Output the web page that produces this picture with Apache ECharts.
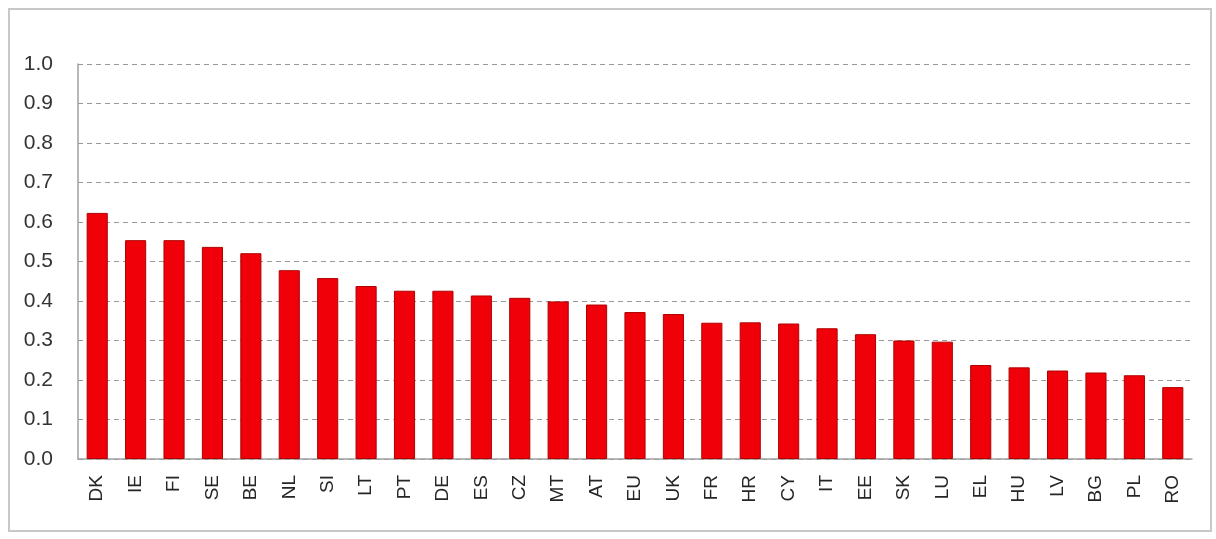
<!DOCTYPE html>
<html>
<head>
<meta charset="utf-8">
<script src="https://cdn.jsdelivr.net/npm/echarts@6/dist/echarts.min.js"></script>
<style>
  html, body { margin: 0; padding: 0; background: #fff; }
  #chart { width: 1216px; height: 539px; }
  .frame {
    position: absolute; left: 8px; top: 8px; width: 1200px; height: 520px;
    border: 2px solid #c8c8c8; pointer-events: none;
  }
</style>
</head>
<body>
<div id="chart"></div>
<div class="frame"></div>
<script>
// countries, ranked
const countries = ['DK', 'IE', 'FI', 'SE', 'BE', 'NL', 'SI', 'LT', 'PT', 'DE', 'ES', 'CZ', 'MT', 'AT', 'EU',
  'UK', 'FR', 'HR', 'CY', 'IT', 'EE', 'SK', 'LU', 'EL', 'HU', 'LV', 'BG', 'PL', 'RO']
const values = [0.623, 0.554, 0.554, 0.537, 0.521, 0.478, 0.458, 0.438, 0.426, 0.426, 0.414, 0.408, 0.399, 0.391, 0.372,
  0.367, 0.345, 0.346, 0.343, 0.331, 0.316, 0.300, 0.297, 0.238, 0.232, 0.224, 0.219, 0.212, 0.182]

const mychart = echarts.init(document.getElementById('chart'))
mychart.setOption({
  animation: false,
  grid: { left: 78, right: 24, top: 64, bottom: 80 },
  xAxis: {
    type: 'category',
    data: countries,
    axisLine: { lineStyle: { color: '#a0a0a0', width: 1.5 } },
    axisTick: { show: false },
    axisLabel: {
      rotate: 90,
      margin: 16,
      color: '#262626',
      fontSize: 19,
      fontFamily: 'Liberation Sans'
    }
  },
  yAxis: {
    type: 'value',
    min: 0,
    max: 1,
    interval: 0.1,
    axisLine: { show: true, lineStyle: { color: '#a0a0a0', width: 1.5 } },
    axisTick: { show: false },
    axisLabel: {
      formatter: v => v.toFixed(1),
      margin: 25,
      color: '#333',
      fontSize: 21,
      fontFamily: 'Liberation Sans'
    },
    splitLine: { lineStyle: { type: [5, 4], color: '#999', width: 1 } }
  },
  series: [
    {
      type: 'bar',
      data: values,
      barWidth: '55%',
      itemStyle: { color: '#f00008', borderColor: '#b00000', borderWidth: 1 }
    }
  ]
})
</script>
</body>
</html>
